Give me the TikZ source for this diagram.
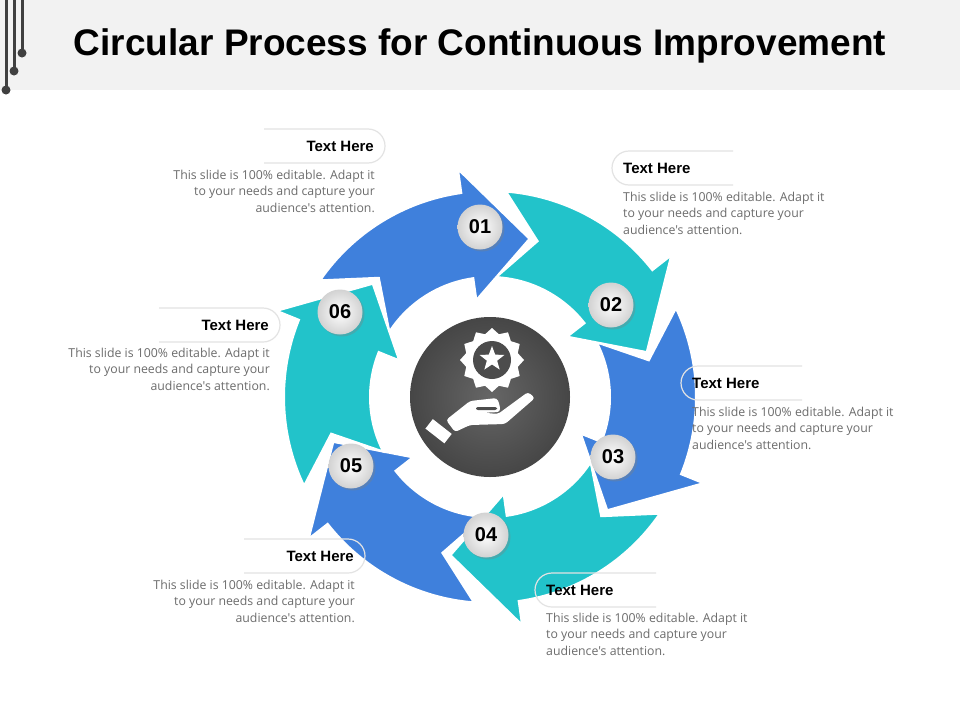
\documentclass[tikz,border=0pt]{standalone}
\usepackage{fontspec}
\setmainfont{Liberation Sans}
\newfontfamily\bodyfont{Open Sans}
\usetikzlibrary{shadows,shapes.geometric,calc}
\definecolor{cblue}{HTML}{3F80DC}
\definecolor{cteal}{HTML}{22C3CA}
\definecolor{dk}{HTML}{404040}
\tikzset{
 badge/.style={circle,minimum size=45pt,inner sep=0pt,shade,outer color=gray!35,inner color=white,
   font=\bfseries\fontsize{20}{20}\selectfont,text=black,drop shadow={opacity=0.35,shadow xshift=2pt,shadow yshift=-2pt}},
 ttl/.style={font=\bfseries\fontsize{15}{15}\selectfont,inner sep=0pt},
 bodyl/.style={font=\bodyfont\fontsize{12.3}{16.3}\selectfont,text=gray!85!black,align=left,inner sep=0pt},
 bodyr/.style={font=\bodyfont\fontsize{12.3}{16.3}\selectfont,text=gray!85!black,align=right,inner sep=0pt},
 pill/.style={draw=gray!22,line width=1.2pt},
 arr/.style={draw=white,line width=2pt,line join=miter}
}
\newcommand{\myarrow}[2]{%
 \fill[#2,arr] ($(C)+(#1+22:230)$) -- ($(C)+(#1:163)$) -- ($(C)+(#1+22:98)$) -- ($(C)+(#1+22:120)$)
   arc[start angle=#1+22,end angle=#1+71,radius=120] -- ($(C)+(#1+57:163)$) -- ($(C)+(#1+69.5:206)$)
   arc[start angle=#1+69.5,end angle=#1+22,radius=206] -- cycle;}
\begin{document}
\begin{tikzpicture}[x=1pt,y=1pt]
\useasboundingbox (0,0) rectangle (960,-720);
\fill[white] (0,0) rectangle (960,-720);
\fill[gray!10] (0,0) rectangle (960,-90);
\node[font=\bfseries\fontsize{37}{37}\selectfont] (title) at (480,-46) {Circular Process for Continuous Improvement};
\foreach \x/\y in {6/90,14/71,22/53}{\draw[dk,line width=3pt] (\x,0) -- (\x,-\y); \fill[dk] (\x,-\y) circle (4.5);}
\coordinate (C) at (490,-397);
\myarrow{-164}{cblue}
\myarrow{-104}{cteal}
\myarrow{-44}{cblue}
\myarrow{16}{cteal}
\myarrow{76}{cblue}
\myarrow{136}{cteal}
% center
\shade[inner color=gray!80!black,outer color=gray!55!black] (C) circle (80);
\node[star,star points=12,star point ratio=1.2,fill=white,minimum size=64pt,inner sep=0pt] (gear) at (492,-360) {};
\fill[gray!60!black] (gear.center) circle (19);
\node[star,star points=5,star point ratio=2.4,fill=white,minimum size=26pt,inner sep=0pt] (st) at (492,-359) {};
\fill[white,rotate around={-38:(437,-430)}] (427,-436) rectangle (451,-424);
\fill[white,rounded corners=3pt] (446,-420) -- (470,-401) -- (497,-398) -- (500,-406) -- (500,-412) -- (478,-413) -- (476,-412) -- (498,-414) -- (528,-392) -- (535,-398) -- (505,-424) -- (470,-425) -- (455,-432) -- cycle;
\fill[gray!60!black,rounded corners=2pt] (476,-407) -- (497,-407) -- (497,-410) -- (476,-410) -- cycle;
% badges
\node[badge] (b1) at (480,-227) {01};
\node[badge] (b2) at (611,-305) {02};
\node[badge] (b3) at (613,-457) {03};
\node[badge] (b4) at (486,-535) {04};
\node[badge] (b5) at (351,-466) {05};
\node[badge] (b6) at (340,-312) {06};
% right aligned labels
\foreach \n/\xr/\yt/\yb in {a/374/146/178, b/269/325/356, c/354/556/588}{
 \draw[pill] (\xr-110,-\yt+17) -- (\xr-6,-\yt+17) arc[start angle=90,end angle=-90,radius=17] -- (\xr-110,-\yt-17);
 \node[ttl,anchor=east] (t\n) at (\xr,-\yt) {Text Here};
 \node[bodyr,anchor=north east] (d\n) at (\xr+1,-\yb+8) {This slide is 100\% editable. Adapt it\\to your needs and capture your\\audience's attention.};
}
\foreach \n/\xl/\yt/\yb in {d/623/168/200, e/692/383/415, f/546/590/621}{
 \draw[pill] (\xl+110,-\yt+17) -- (\xl+6,-\yt+17) arc[start angle=90,end angle=270,radius=17] -- (\xl+110,-\yt-17);
 \node[ttl,anchor=west] (t\n) at (\xl,-\yt) {Text Here};
 \node[bodyl,anchor=north west] (d\n) at (\xl,-\yb+8) {This slide is 100\% editable. Adapt it\\to your needs and capture your\\audience's attention.};
}
\end{tikzpicture}
\end{document}
